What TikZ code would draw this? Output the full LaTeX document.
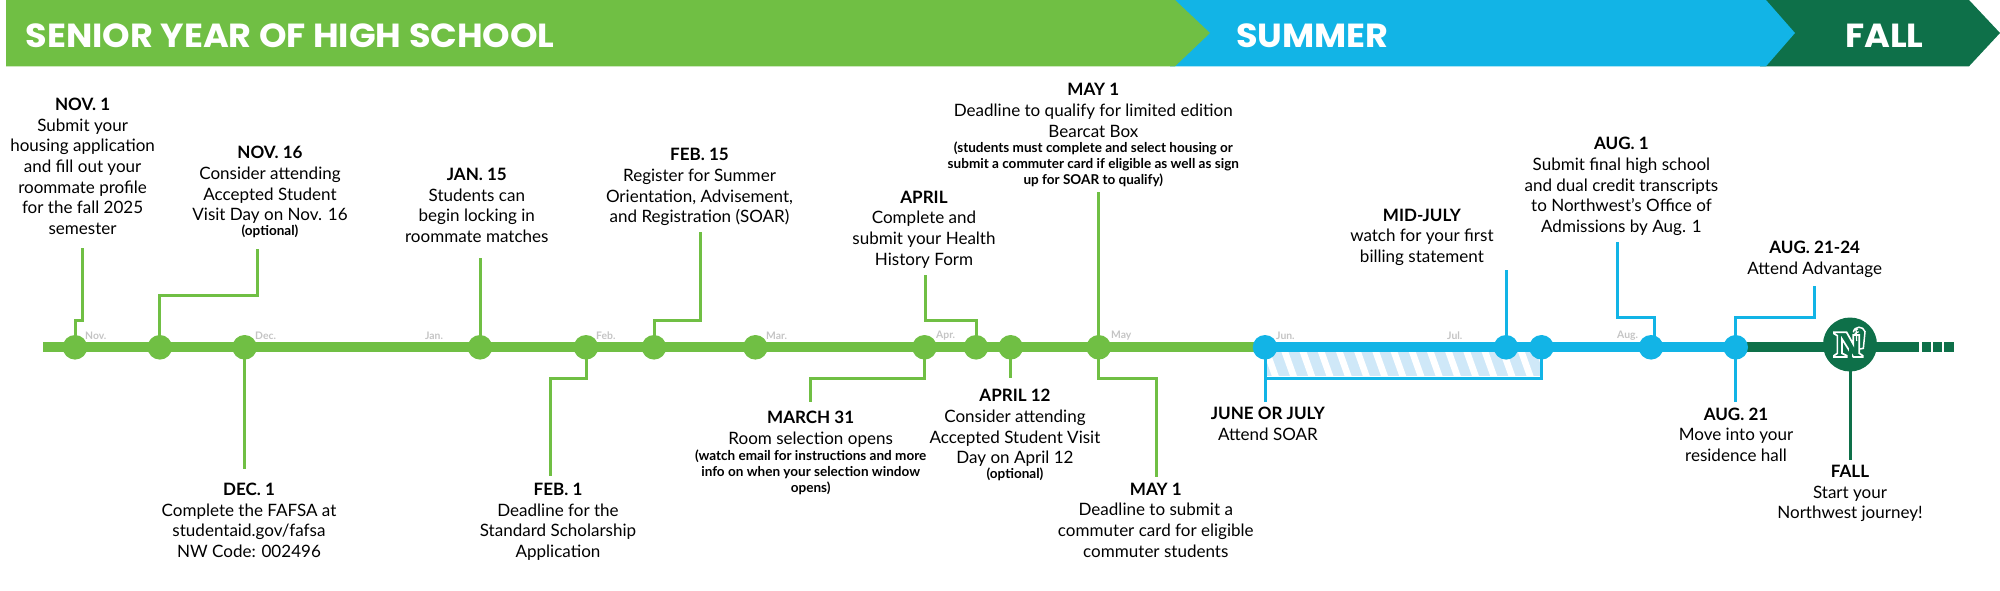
\documentclass[tikz,border=0pt]{standalone}
\usepackage{fontspec}
\setmainfont{Lato}
\newfontfamily\headfont{Poppins}[FakeStretch=1.05]
\definecolor{hsgreen}{HTML}{70BF44}
\definecolor{sumblue}{HTML}{12B4E6}
\definecolor{fallgreen}{HTML}{0E7049}
\definecolor{hatchblue}{HTML}{CFE8F8}
\definecolor{monthgray}{HTML}{C4C4C4}
\newcommand{\notes}[1]{{\fontsize{13.6}{15.9}\selectfont\bfseries #1}}
\tikzset{
  event/.style={anchor=north, align=center, inner sep=0pt, font=\fontsize{17.1}{20.7}\selectfont},
  band/.style={anchor=west, inner sep=0pt, text=white, font=\headfont\bfseries\fontsize{33.5}{33.5}\selectfont},
  month/.style={anchor=west, inner sep=0pt, text=monthgray, font=\fontsize{10.4}{12}\selectfont\bfseries},
  dot/.style={circle, inner sep=0pt, minimum size=24.6bp},
  link/.style={line width=3bp}
}
\begin{document}
\begin{tikzpicture}[x=1bp, y=-1bp]
\useasboundingbox (0,0) rectangle (2000,591);
% banner
\fill[fallgreen] (1760,0) -- (1969,0) -- (2000,33) -- (1969,66.3) -- (1760,66.3) -- cycle;
\fill[sumblue] (1170,0) -- (1766,0) -- (1795,33) -- (1766,66.3) -- (1170,66.3) -- cycle;
\fill[hsgreen] (6,0) -- (1175,0) -- (1210,33) -- (1175,66.3) -- (6,66.3) -- cycle;
\node[band] (bandhs) at (25.4,36) {SENIOR YEAR OF HIGH SCHOOL};
\node[band] (bandsum) at (1236,36) {SUMMER};
\node[band] (bandfall) at (1845,36) {FALL};
% hatched bar
\fill[hatchblue] (1266,352) rectangle (1541,376);
\begin{scope}
\clip (1266,352) rectangle (1541,376);
\foreach \x in {1266,1284.2,...,1560}
  \draw[white, line width=6.6bp] (\x,350) -- (\x+10,378);
\end{scope}
% timeline
\draw[hsgreen, line width=9.8bp] (43.3,347.3) -- (1265,347.3);
\draw[sumblue, line width=9.8bp] (1265,347.3) -- (1736,347.3);
\draw[fallgreen, line width=9.8bp] (1736,347.3) -- (1919,347.3);
\fill[fallgreen] (1922,342.3) rectangle (1931,352.3);
\fill[fallgreen] (1933,342.3) rectangle (1942,352.3);
\fill[fallgreen] (1944,342.3) rectangle (1954,352.3);
% dots
\foreach \name/\x in {dnov/75, dnovb/159.8, ddec/244.6, djan/480, dfeb/586, dfebb/654, dmar/755.4, dmarb/924.5, dapr/976, daprb/1010.7, dmay/1098.7}
  \node[dot, fill=hsgreen] (\name) at (\x,347.3) {};
\foreach \name/\x in {djun/1265, djul/1506, djulb/1541.5, daug/1651, daugb/1735.7}
  \node[dot, fill=sumblue] (\name) at (\x,347.3) {};
\node[circle, inner sep=0pt, minimum size=54bp, fill=fallgreen] (dfall) at (1850,344.5) {};
% logo
\begin{scope}[shift={(1820,315)}, x=0.3333bp, y=-0.3333bp]
\draw[white, line width=1.7bp, fill=fallgreen, line join=miter] (42,52) -- (80,52) -- (100,88) -- (100,60) -- (118,60) -- (118,115) -- (128,122) -- (128,126) -- (100,126) -- (66,72) -- (66,115) -- (80,122) -- (80,126) -- (42,126) -- (42,122) -- (52,115) -- (52,62) -- (42,56) -- cycle;
\draw[white, line width=1.5bp] (100,52) .. controls (103,32) and (130,32) .. (135,50) -- (130,100) -- (120,102);
\draw[white, line width=1.2bp] (103,46) -- (114,42) (104,56) -- (116,50) (108,40) -- (110,78);
\end{scope}
% months
\node[month] (mnov) at (85,335.5) {Nov.};
\node[month] (mdec) at (255,335.5) {Dec.};
\node[month] (mjan) at (425,335.5) {Jan.};
\node[month] (mfeb) at (596,335.5) {Feb.};
\node[month] (mmar) at (766,335.5) {Mar.};
\node[month] (mapr) at (936,335.5) {Apr.};
\node[month] (mmay) at (1111,335.5) {May};
\node[month] (mjun) at (1276,335.5) {Jun.};
\node[month] (mjul) at (1447,335.5) {Jul.};
\node[month] (maug) at (1617,335.5) {Aug.};
% events
\node[event] (nov) at (82.6,98) {\textbf{NOV. 1}\\Submit your\\housing application\\and fill out your\\roommate profile\\for the fall 2025\\semester};
\node[event] (novb) at (270,146.2) {\textbf{NOV. 16}\\Consider attending\\Accepted Student\\Visit Day on Nov. 16\\[-6pt]\notes{(optional)}};
\node[event] (dec) at (249,482.9) {\textbf{DEC. 1}\\Complete the FAFSA at\\studentaid.gov/fafsa\\NW Code: 002496};
\node[event] (jan) at (476.8,168) {\textbf{JAN. 15}\\Students can\\begin locking in\\roommate matches};
\node[event] (feb) at (558,482.9) {\textbf{FEB. 1}\\Deadline for the\\Standard Scholarship\\Application};
\node[event] (febb) at (699.5,148.3) {\textbf{FEB. 15}\\Register for Summer\\Orientation, Advisement,\\and Registration (SOAR)};
\node[event] (marb) at (810.7,411) {\textbf{MARCH 31}\\Room selection opens\\[-4pt]\notes{(watch email for instructions and more}\\[-4.7pt]\notes{info on when your selection window}\\[-4.7pt]\notes{opens)}};
\node[event] (apr) at (924,190.7) {\textbf{APRIL}\\Complete and\\submit your Health\\History Form};
\node[event] (aprb) at (1015,389.3) {\textbf{APRIL 12}\\Consider attending\\Accepted Student Visit\\Day on April 12\\[-5.5pt]\notes{(optional)}};
\node[event] (may) at (1093.3,83.4) {\textbf{MAY 1}\\Deadline to qualify for limited edition\\Bearcat Box\\[-5pt]\notes{(students must complete and select housing or}\\[-4.7pt]\notes{submit a commuter card if eligible as well as sign}\\[-4.7pt]\notes{up for SOAR to qualify)}};
\node[event] (mayb) at (1155.8,482.8) {\textbf{MAY 1}\\Deadline to submit a\\commuter card for eligible\\commuter students};
\node[event] (jun) at (1267.9,407) {\textbf{JUNE OR JULY}\\Attend SOAR};
\node[event] (jul) at (1421.9,208.8) {\textbf{MID-JULY}\\watch for your first\\billing statement};
\node[event] (aug) at (1621.4,137.2) {\textbf{AUG. 1}\\Submit final high school\\and dual credit transcripts\\to Northwest’s Office of\\Admissions by Aug. 1};
\node[event] (augc) at (1814.7,240.9) {\textbf{AUG. 21-24}\\Attend Advantage};
\node[event] (augb) at (1736,407.5) {\textbf{AUG. 21}\\Move into your\\residence hall};
\node[event] (fall) at (1850,465) {\textbf{FALL}\\Start your\\Northwest journey!};
% free ends
\coordinate (enov) at (82.6,247.6);
\coordinate (enovb) at (257,248.8);
\coordinate (edec) at (244.6,469.3);
\coordinate (ejan) at (480,258.2);
\coordinate (efeb) at (550.4,476);
\coordinate (efebb) at (700,231.7);
\coordinate (emarb) at (810.7,401.7);
\coordinate (eapr) at (925.4,274.8);
\coordinate (eaprb) at (1010.7,378.3);
\coordinate (emay) at (1098.7,192);
\coordinate (emayb) at (1156.3,476.6);
\coordinate (ejun) at (1265,401.7);
\coordinate (ejul) at (1506,270);
\coordinate (eaug) at (1617,242.4);
\coordinate (eaugc) at (1814.7,285.7);
\coordinate (eaugb) at (1735.7,401.8);
\coordinate (efall) at (1850,459.9);
% connectors
\draw[link, hsgreen] (dnov.center) -- (75,320.8) -| (enov);
\draw[link, hsgreen] (dnovb.center) -- (159.8,295) -| (enovb);
\draw[link, hsgreen] (ddec.center) -- (edec);
\draw[link, hsgreen] (djan.center) -- (ejan);
\draw[link, hsgreen] (dfeb.center) -- (586,378.8) -| (efeb);
\draw[link, hsgreen] (dfebb.center) -- (654,320.8) -| (efebb);
\draw[link, hsgreen] (dmarb.center) -- (924.5,378.6) -| (emarb);
\draw[link, hsgreen] (dapr.center) -- (976,320.7) -| (eapr);
\draw[link, hsgreen] (daprb.center) -- (eaprb);
\draw[link, hsgreen] (dmay.center) -- (emay);
\draw[link, hsgreen] (dmay.center) -- (1098.7,378.5) -| (emayb);
\draw[link, sumblue] (djun.center) -- (ejun);
\draw[link, sumblue] (djun.center |- 0,378.3) -| (djulb.center);
\draw[link, sumblue] (djul.center) -- (ejul);
\draw[link, sumblue] (1654,347.3) -- (1654,317) -| (eaug);
\draw[link, sumblue] (daugb.center) -- (1735.7,317) -| (eaugc);
\draw[link, sumblue] (daugb.center) -- (eaugb);
\draw[link, fallgreen] (dfall.center) -- (efall);
\end{tikzpicture}
\end{document}
